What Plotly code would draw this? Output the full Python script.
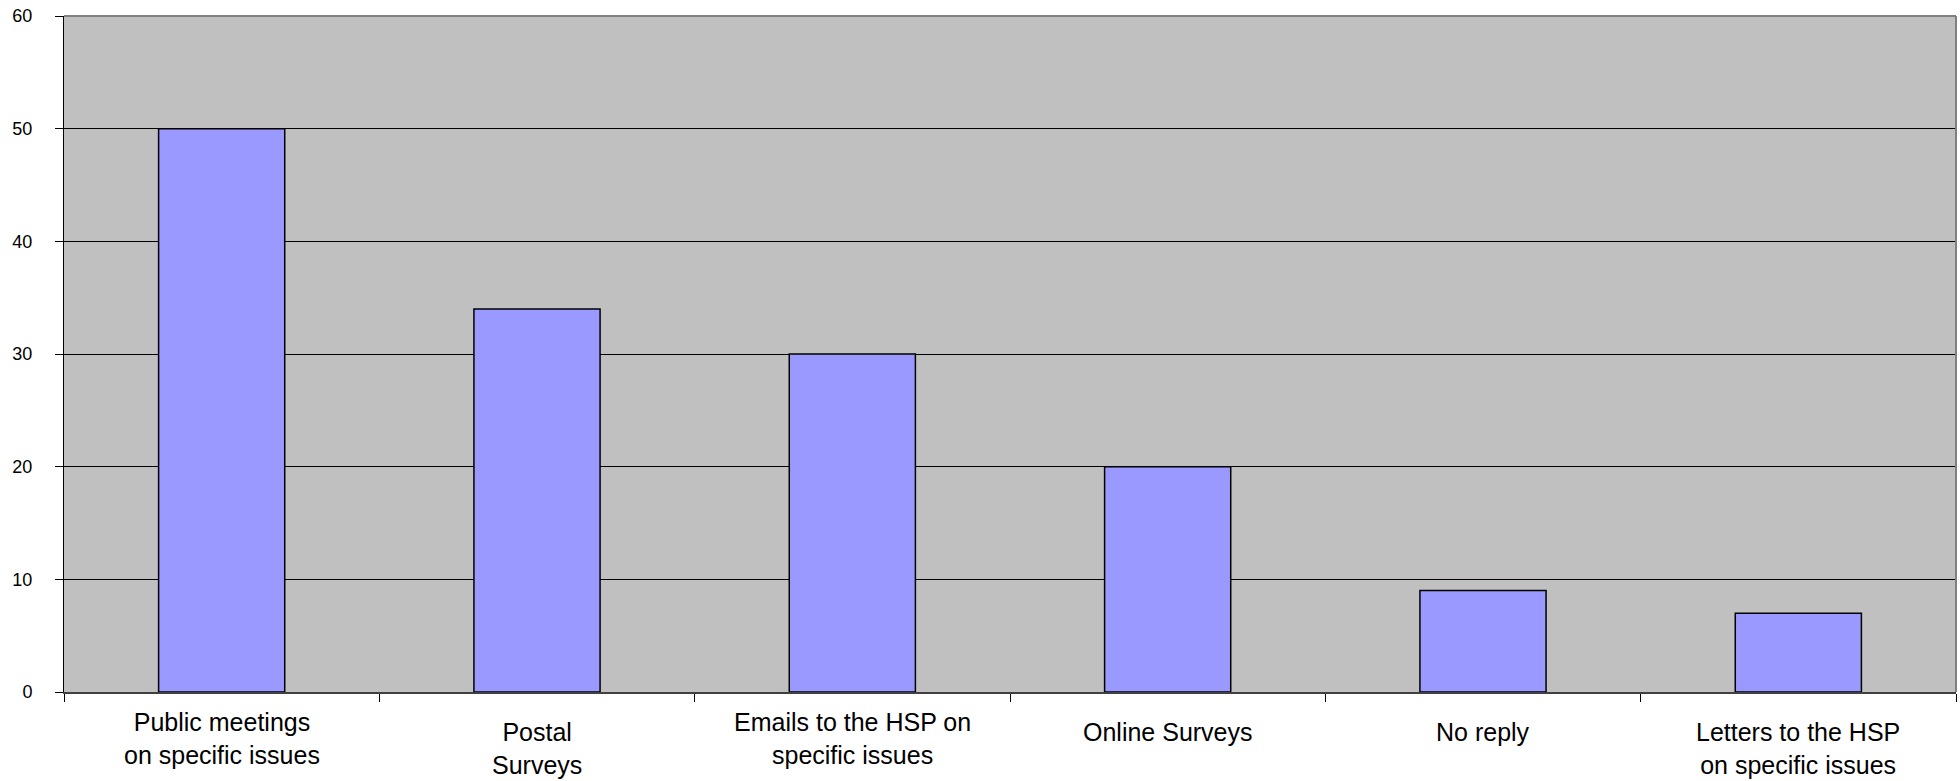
import plotly.graph_objects as go

categories = ["Public meetings on specific issues", "Postal Surveys",
              "Emails to the HSP on specific issues", "Online Surveys",
              "No reply", "Letters to the HSP on specific issues"]
label_text = ["Public meetings<br>on specific issues", "Postal<br>Surveys",
              "Emails to the HSP on<br>specific issues", "Online Surveys",
              "No reply", "Letters to the HSP<br>on specific issues"]
values = [50, 34, 30, 20, 9, 7]
y_ticks = [0, 10, 20, 30, 40, 50, 60]

label_shift = [-14, -24, -14, -24, -24, -24]

fig = go.Figure()
fig.add_trace(go.Bar(
    x=categories, y=values,
    marker=dict(color="#9999FF", line=dict(color="#000000", width=1.5)),
    width=0.4,
))

for cat, txt, sh in zip(categories, label_text, label_shift):
    fig.add_annotation(x=cat, y=0, xref="x", yref="y", text=txt, showarrow=False,
                       yanchor="top", xanchor="center", yshift=sh,
                       font=dict(family="Liberation Sans, Arial", size=25, color="#000000"))

fig.update_layout(
    width=1960, height=781,
    margin=dict(l=64, r=4, t=16, b=89),
    paper_bgcolor="#FFFFFF", plot_bgcolor="#C0C0C0",
    showlegend=False,
    font=dict(family="Liberation Sans, Arial", color="#000000"),
    xaxis=dict(
        type="category", showticklabels=False,
        tickson="boundaries", ticks="outside", ticklen=8, tickcolor="#000000",
        showgrid=False, showline=True, linecolor="#404040", linewidth=2,
        mirror=False, zeroline=False,
    ),
    yaxis=dict(
        range=[0, 60], tickvals=y_ticks, ticks="outside", ticklen=8,
        tickcolor="#000000", tickfont=dict(size=18, color="#000000"),
        showgrid=True, gridcolor="#000000", gridwidth=1,
        showline=True, linecolor="#000000", linewidth=1,
        zeroline=False, ticklabelstandoff=19,
    ),
    shapes=[
        dict(type="line", xref="paper", yref="paper", x0=0, x1=1, y0=1, y1=1,
             line=dict(color="#808080", width=2)),
        dict(type="line", xref="paper", yref="paper", x0=1, x1=1, y0=0, y1=1,
             line=dict(color="#808080", width=2)),
    ],
)

fig.write_html("out.html", config={"displayModeBar": False},
               post_script="document.body.style.margin='0';document.body.style.overflow='hidden';")
